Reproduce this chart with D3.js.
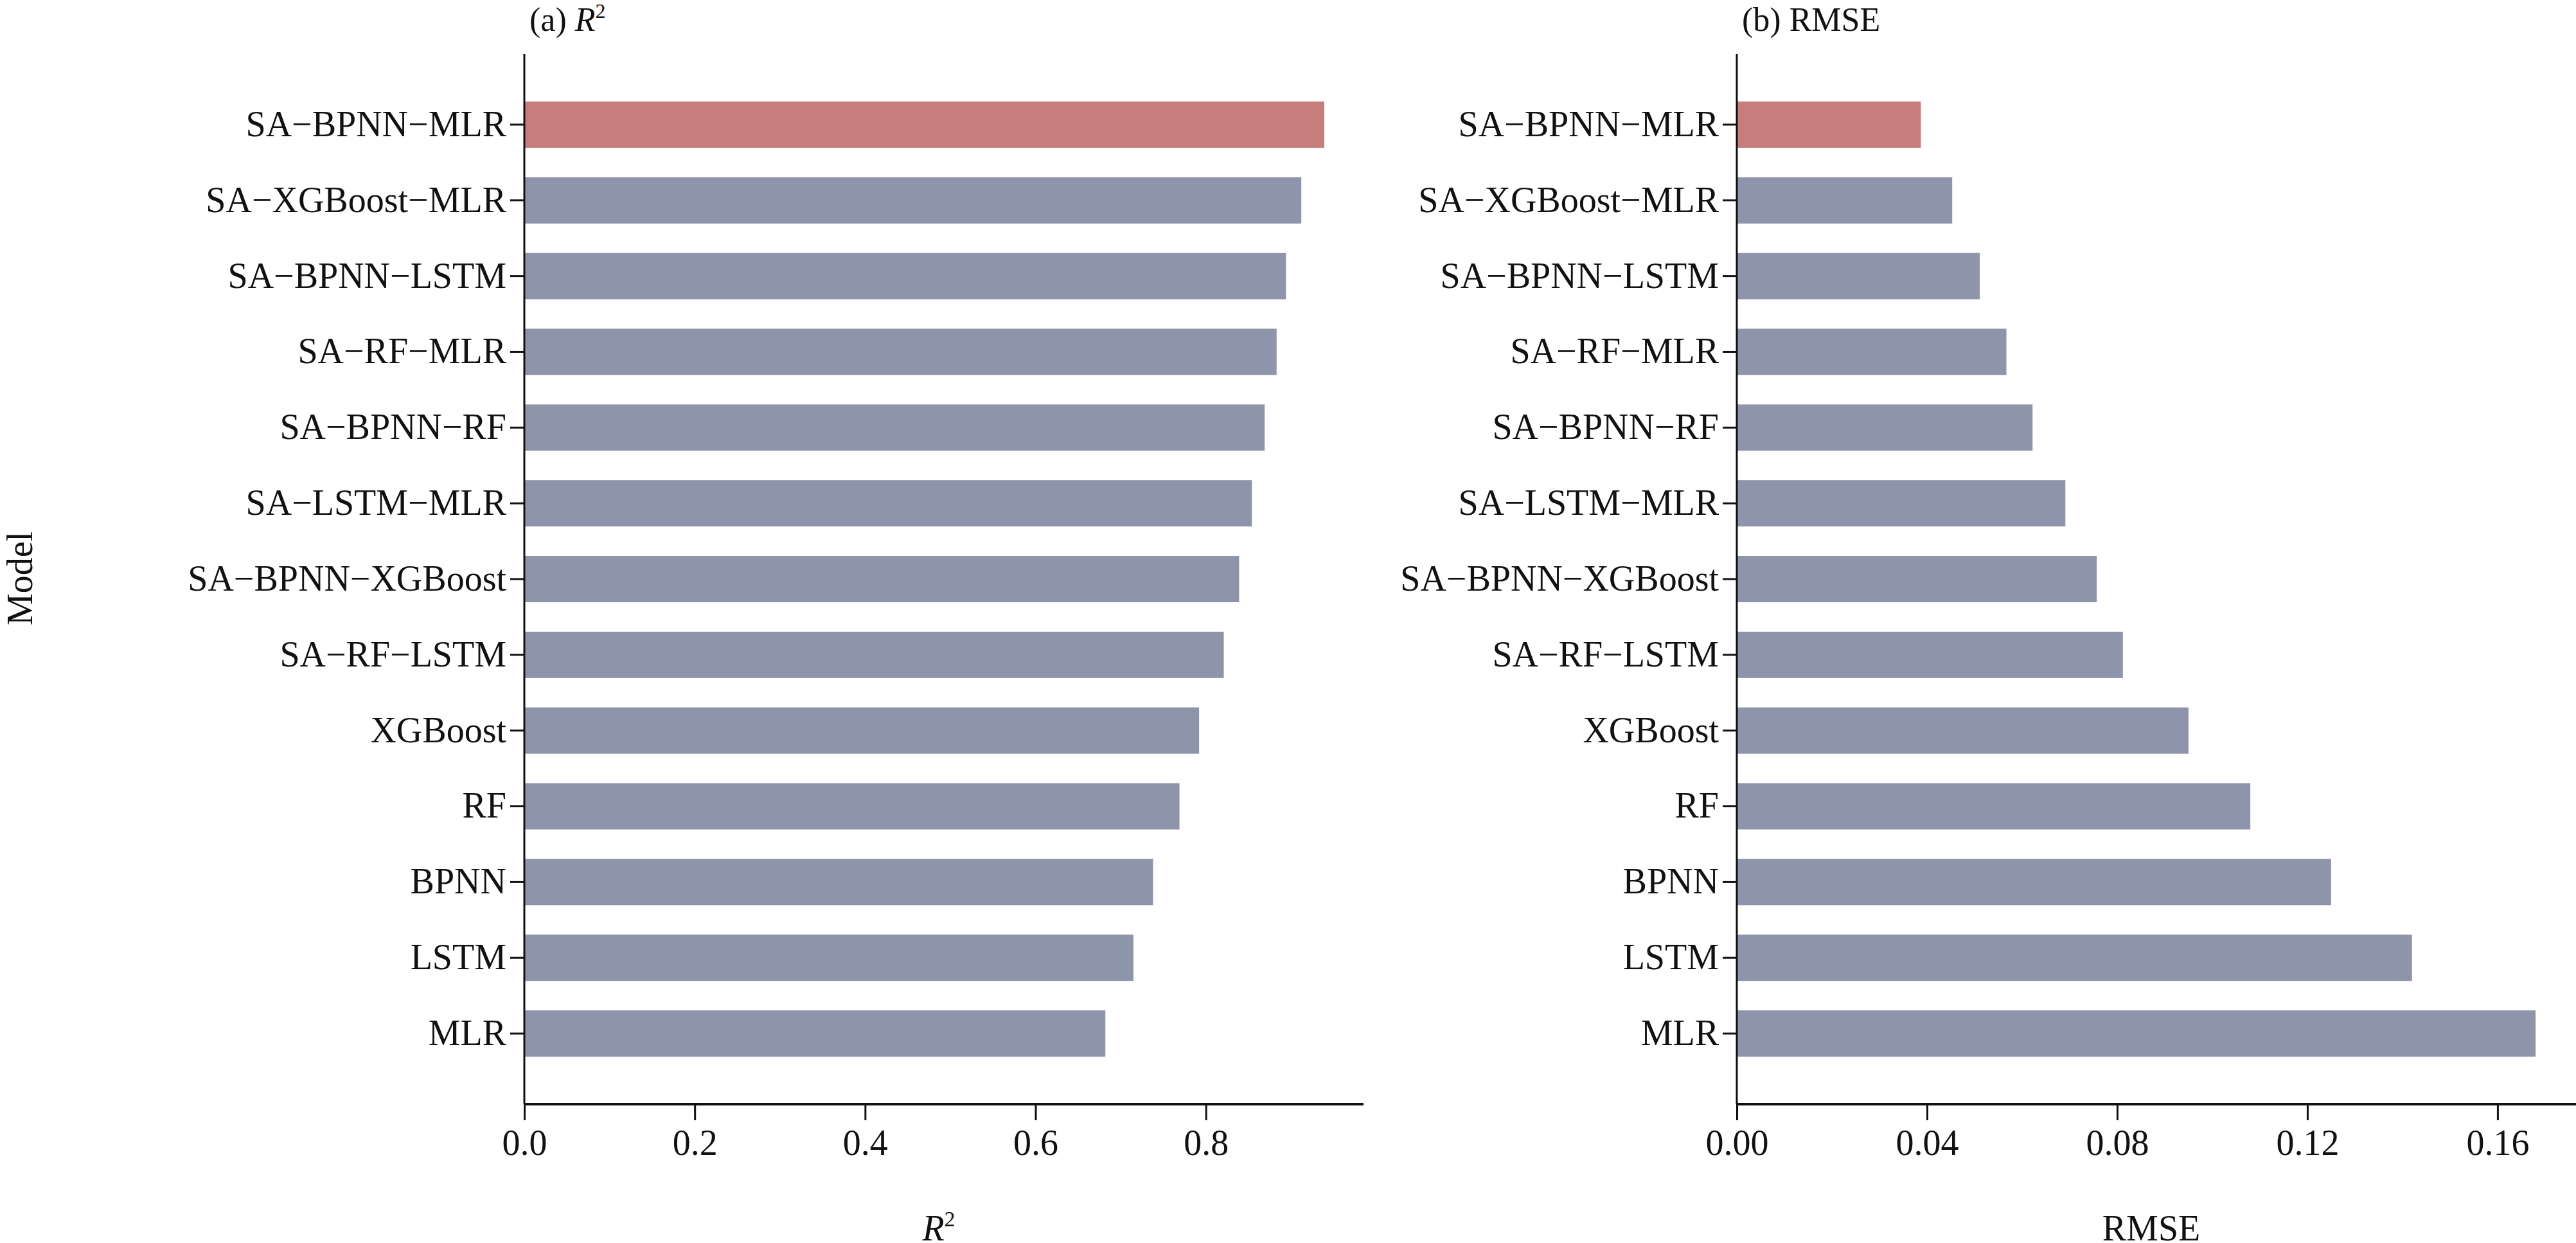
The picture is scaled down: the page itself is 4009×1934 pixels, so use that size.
<!DOCTYPE html>
<html><head><meta charset="utf-8">
<script src="https://cdn.jsdelivr.net/npm/d3@7"></script>
<style>body{margin:0;background:#fff}svg{display:block}text{font-family:"Liberation Serif","Times New Roman",serif;fill:#111}</style>
</head><body>
<svg id="c" width="4009" height="1934"></svg>
<script>
const models = ["SA−BPNN−MLR","SA−XGBoost−MLR","SA−BPNN−LSTM","SA−RF−MLR","SA−BPNN−RF","SA−LSTM−MLR","SA−BPNN−XGBoost","SA−RF−LSTM","XGBoost","RF","BPNN","LSTM","MLR"];
const r2 = [0.939,0.912,0.894,0.883,0.869,0.854,0.839,0.821,0.792,0.769,0.738,0.715,0.682];
const rmse = [0.0387,0.0453,0.0511,0.0567,0.0622,0.0691,0.0757,0.0812,0.095,0.108,0.125,0.142,0.168];
const r2Ticks = [0,0.2,0.4,0.6,0.8];
const rmseTicks = [0,0.04,0.08,0.12,0.16];

const svg = d3.select("#c");
const axTop = 84, axBottom = 1718, fs = 56;
const y = d3.scaleBand().domain(models).range([135, 1667]).paddingInner(0.39).paddingOuter(0.195);

function panel(x0, x1, dmax, vals, ticks, fmt, title, xlabel, italic) {
  const x = d3.scaleLinear().domain([0, dmax]).range([x0, x1]);
  const g = svg.append("g");
  g.selectAll("rect").data(models).join("rect")
    .attr("x", x(0)).attr("y", d => y(d) + (y.bandwidth()-72)/2)
    .attr("width", (d,i) => x(vals[i]) - x(0)).attr("height", 72)
    .attr("fill", (d,i) => i === 0 ? "#c87d7d" : "#8e94a9");
  const ya = g.append("g").attr("transform", `translate(${x0},0)`)
    .call(d3.axisLeft(y).tickSize(22).tickPadding(6));
  ya.select(".domain").remove();
  ya.append("line").attr("x1",0).attr("x2",0).attr("y1",axTop).attr("y2",axBottom).attr("stroke","#111").attr("stroke-width",3);
  ya.selectAll(".tick line").attr("stroke","#111").attr("stroke-width",3);
  ya.selectAll(".tick text").style("font-size", fs+"px").attr("fill","#111");
  const xa = g.append("g").attr("transform", `translate(0,${axBottom})`)
    .call(d3.axisBottom(x).tickValues(ticks).tickFormat(fmt).tickSize(25).tickPadding(14));
  xa.select(".domain").attr("stroke","#111").attr("stroke-width",4).attr("d", `M${x0},0H${x1}`);
  xa.selectAll(".tick line").attr("stroke","#111").attr("stroke-width",3);
  xa.selectAll(".tick text").style("font-size", fs+"px").attr("fill","#111");
  const t = g.append("text").attr("x", x0 + 8).attr("y", 48).style("font-size", "52px");
  t.append("tspan").text(title[0]);
  const ts = t.append("tspan").text(title[1]);
  if (italic) { ts.style("font-style","italic"); t.append("tspan").attr("dy",-20).style("font-size","32px").text("2"); }
  const xl = g.append("text").attr("x", (x0 + x1)/2 - 8).attr("y", 1930).attr("text-anchor","middle").style("font-size", "56px");
  if (italic) { xl.append("tspan").style("font-style","italic").text("R"); xl.append("tspan").attr("dy",-22).style("font-size","34px").text("2"); }
  else xl.text(xlabel);
}
panel(816, 2122, 0.985, r2, r2Ticks, d3.format(".1f"), ["(a) ","R"], "R2", true);
panel(2703, 4009, 0.1765, rmse, rmseTicks, d3.format(".2f"), ["(b) ","RMSE"], "RMSE", false);
svg.append("text").attr("transform","translate(50,900) rotate(-90)").attr("text-anchor","middle").style("font-size","56px").text("Model");
</script></body></html>
